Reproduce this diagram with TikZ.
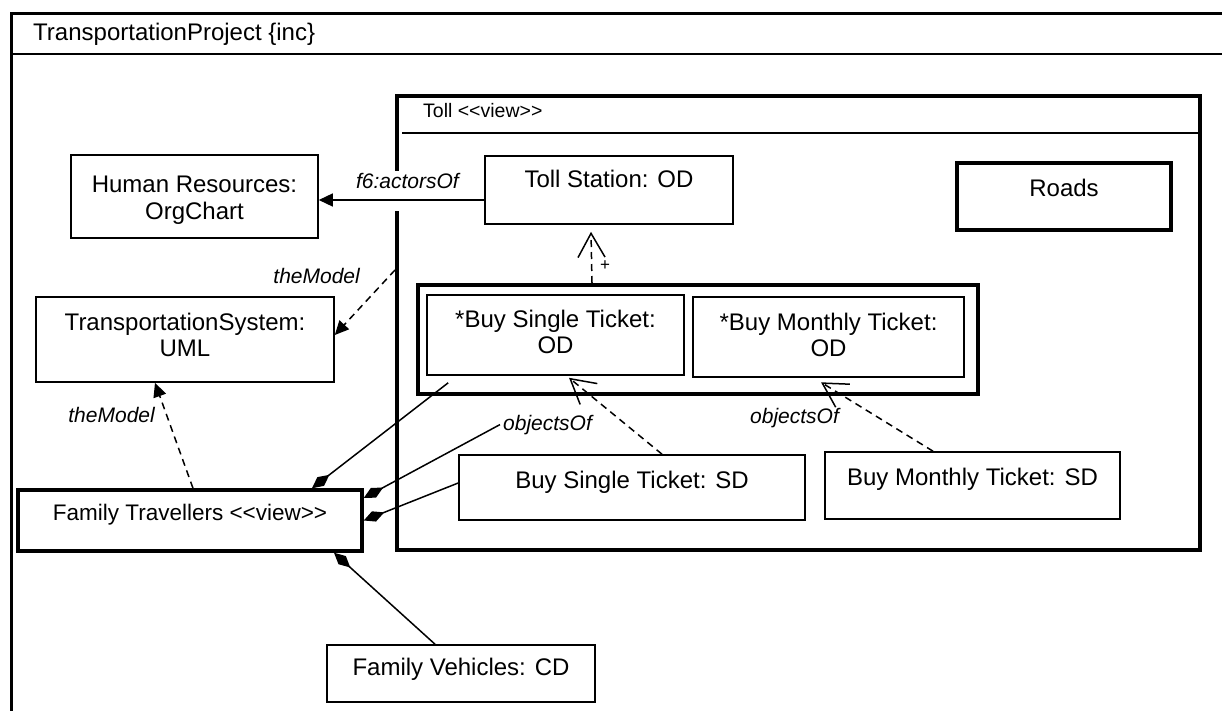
\documentclass[tikz,border=0pt]{standalone}
\usepackage{fontspec}
\setmainfont{Liberation Sans}[Ligatures=TeXOff]
\usetikzlibrary{arrows.meta,calc}

\begin{document}
\begin{tikzpicture}[x=1pt,y=-1pt,
  box/.style={draw, line width=1.6pt, inner sep=0pt, fill=white},
  heavy/.style={box, line width=4pt},
  bold/.style={box, line width=3.5pt},
  txt/.style={font=\fontsize{24}{26.7}\selectfont, inner sep=0pt, anchor=base},
  lbl/.style={font=\fontsize{21}{24}\selectfont\itshape, inner sep=3pt},
  conn/.style={line width=1.5pt},
  dsh/.style={conn, dash pattern=on 7pt off 5pt},
  tri/.style={-{Triangle[length=14pt,width=13pt]}},
  barb/.style={-{Straight Barb[length=24pt,width=27pt]}},
  comp/.style={{Diamond[length=22pt,width=11pt]}-},
]
\useasboundingbox (0,0) rectangle (1222,711);
\clip (0,0) rectangle (1222,711);

% enclosing project frame
\node[draw, line width=3pt, inner sep=0pt, minimum width=1300pt, minimum height=800pt,
      anchor=north west] (proj) at (10,12) {};
\draw[line width=1.8pt] (10,54) -- (1310,54);
\node[txt, anchor=base west] (projname) at (33,41) {TransportationProject \{inc\}};

% Toll view frame
\node[heavy, minimum width=803pt, minimum height=454pt] (toll) at (798.5,323) {};
\draw[line width=1.5pt] (402,133) -- (1198,133);
\node[txt, anchor=base west, font=\fontsize{19.5}{22}\selectfont] (tollname) at (423,118) {Toll <<view>>};

% boxes
\node[box, minimum width=247pt, minimum height=83pt] (hr) at (194.5,196.5) {};
\node[txt] (hrtext) at (194.5,193) {\begin{tabular}[t]{@{}c@{}}Human Resources:\\OrgChart\end{tabular}};

\node[box, minimum width=248pt, minimum height=68pt] (ts) at (609,190) {};
\node[txt] (tstext) at (609,188) {Toll Station: OD};

\node[bold, minimum width=214pt, minimum height=67pt] (roads) at (1064,196.5) {};
\node[txt] (roadstext) at (1064,197) {Roads};

\node[heavy, minimum width=560pt, minimum height=109pt] (grp) at (698,339.5) {};
\node[box, minimum width=257pt, minimum height=80pt] (bso) at (555.5,335) {};
\node[txt] (bsotext) at (555.5,327) {\begin{tabular}[t]{@{}c@{}}*Buy Single Ticket:\\OD\end{tabular}};
\node[box, minimum width=271pt, minimum height=80pt] (bmo) at (828.5,337) {};
\node[txt] (bmotext) at (828.5,330) {\begin{tabular}[t]{@{}c@{}}*Buy Monthly Ticket:\\OD\end{tabular}};

\node[box, minimum width=298pt, minimum height=85pt] (tsu) at (185,339.5) {};
\node[txt] (tsutext) at (185,330) {\begin{tabular}[t]{@{}c@{}}TransportationSystem:\\UML\end{tabular}};

\node[bold, minimum width=344pt, minimum height=61pt] (ft) at (190,520.5) {};
\node[txt, font=\fontsize{22.5}{26}\selectfont] (fttext) at (190,520) {Family Travellers <<view>>};

\node[box, minimum width=346pt, minimum height=65pt] (bsd) at (632,487.5) {};
\node[txt] (bsdtext) at (632,488) {Buy Single Ticket: SD};

\node[box, minimum width=295pt, minimum height=67pt] (bmd) at (972.5,485.5) {};
\node[txt] (bmdtext) at (972.5,485) {Buy Monthly Ticket: SD};

\node[box, minimum width=268pt, minimum height=57pt] (fv) at (461,673.5) {};
\node[txt] (fvtext) at (461,675) {Family Vehicles: CD};

% connector labels (the first one masks the view border behind it)
\node[lbl, fill=white, anchor=base east, text depth=19pt] (f6) at (462,189) {f6:actorsOf};
\node[lbl, anchor=base east] (tm1) at (363,283) {theModel};
\node[lbl, anchor=base east] (tm2) at (158,422) {theModel};
\node[lbl, anchor=base west] (ob1) at (500,430) {objectsOf};
\node[lbl, anchor=base west] (ob2) at (747,423) {objectsOf};
\node[font=\fontsize{17}{18}\selectfont, inner sep=0pt] (plus) at (605,266) {+};

% connectors
\draw[conn, tri] ($(ts.west)+(0,10)$) -- ($(hr.east)+(0,3.5)$);
\draw[dsh, tri] ($(toll.west)+(0,-53)$) -- ($(tsu.east)+(0,-4.5)$);
\draw[dsh, tri] ($(ft.north)+(3,0)$) -- ($(tsu.south)+(-30,0)$);
\draw[dsh, barb] ($(grp.north)+(-106,0)$) -- ($(ts.south)+(-18,7)$);
\draw[dsh, barb] ($(bsd.north)+(30,0)$) -- ($(bso.south)+(13.5,2)$);
\draw[dsh, barb] ($(bmd.north)+(-39.5,0)$) -- ($(bmo.south)+(-7.5,4.5)$);

\coordinate (bsofoot) at ($(bso.south west)+(22,7)$);
\draw[conn, comp] ($(ft.north)+(122,0)$) -- (bsofoot);
\draw[conn, comp] ($(ft.east)+(0,-22.5)$) -- (ob1.west);
\draw[conn, comp] (ft.east) -- ($(bsd.west)+(0,-4.5)$);
\draw[conn, comp] ($(ft.south)+(144,0)$) -- ($(fv.north)+(-26,0)$);
\end{tikzpicture}
\end{document}
